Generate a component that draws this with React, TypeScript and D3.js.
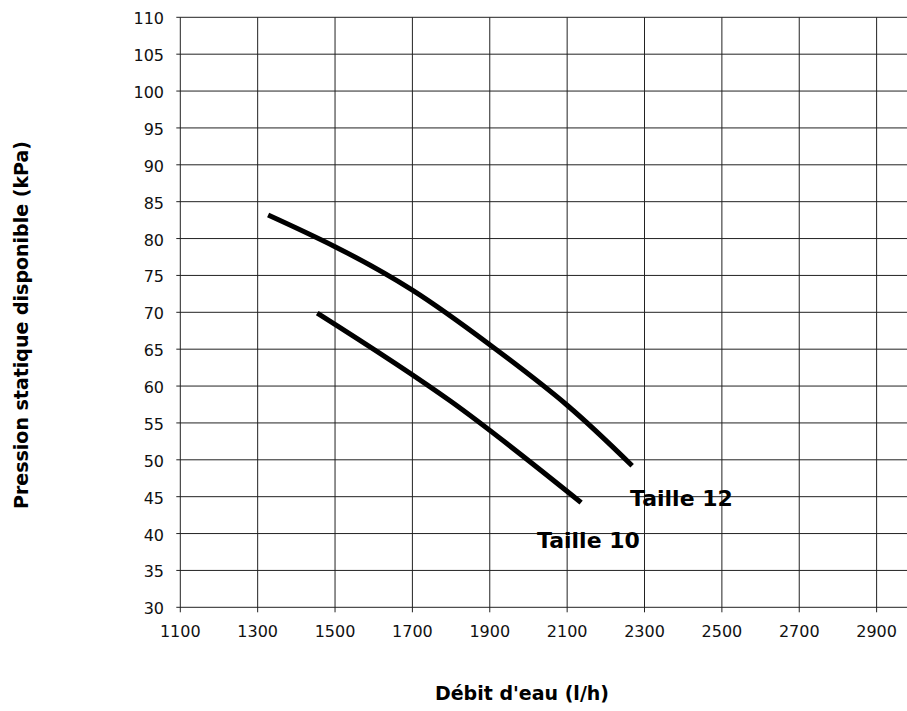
import React from "react";
import * as d3 from "d3";

const xTicks = [1100, 1300, 1500, 1700, 1900, 2100, 2300, 2500, 2700, 2900];
const yTicks = [30, 35, 40, 45, 50, 55, 60, 65, 70, 75, 80, 85, 90, 95, 100, 105, 110];

const taille12X = [1327, 1500, 1700, 1900, 2100, 2268];
const taille12Y = [83.2, 78.9, 73.0, 65.6, 57.4, 49.2];

const taille10X = [1454, 1800, 2136];
const taille10Y = [69.9, 57.9, 44.2];

const seriesLabels = ["Taille 12", "Taille 10"];

const W = 907;
const H = 711;

export default function App() {
  const x = d3.scaleLinear().domain([1100, 3000]).range([180.3, 915.3]);
  const y = d3.scaleLinear().domain([30, 110]).range([607.3, 17.3]);

  const line = d3
    .line<[number, number]>()
    .x((d) => x(d[0]))
    .y((d) => y(d[1]))
    .curve(d3.curveNatural);

  const s12 = taille12X.map((v, i) => [v, taille12Y[i]] as [number, number]);
  const s10 = taille10X.map((v, i) => [v, taille10Y[i]] as [number, number]);

  const font = "'DejaVu Sans', sans-serif";
  const x0 = x(1100);
  const xEnd = W;

  return (
    <svg
      width={W}
      height={H}
      style={{ position: "absolute", left: 0, top: 0, background: "#fff" }}
      fontFamily={font}
    >
      {yTicks.map((t) => (
        <g key={"y" + t}>
          <line x1={x0 - 4} x2={xEnd} y1={y(t)} y2={y(t)} stroke="#222" strokeWidth={1} />
          <text x={164} y={y(t) + 7} textAnchor="end" fontSize={16} fill="#111">
            {t}
          </text>
        </g>
      ))}
      {xTicks.map((t) => (
        <g key={"x" + t}>
          <line x1={x(t)} x2={x(t)} y1={y(110)} y2={y(30) + 5} stroke="#222" strokeWidth={1} />
          <text x={x(t)} y={637} textAnchor="middle" fontSize={16} fill="#111">
            {t}
          </text>
        </g>
      ))}
      <path d={line(s12) || ""} fill="none" stroke="#000" strokeWidth={5} />
      <path d={line(s10) || ""} fill="none" stroke="#000" strokeWidth={5} />
      <text x={630} y={506} fontSize={22} fontWeight="bold" fill="#000">
        {seriesLabels[0]}
      </text>
      <text x={537} y={547.5} fontSize={22} fontWeight="bold" fill="#000">
        {seriesLabels[1]}
      </text>
      <text x={522} y={700} textAnchor="middle" fontSize={19} fontWeight="bold" fill="#000">
        Débit d'eau (l/h)
      </text>
      <text
        transform={`translate(28, 325) rotate(-90)`}
        textAnchor="middle"
        fontSize={19}
        fontWeight="bold"
        fill="#000"
      >
        Pression statique disponible (kPa)
      </text>
    </svg>
  );
}
